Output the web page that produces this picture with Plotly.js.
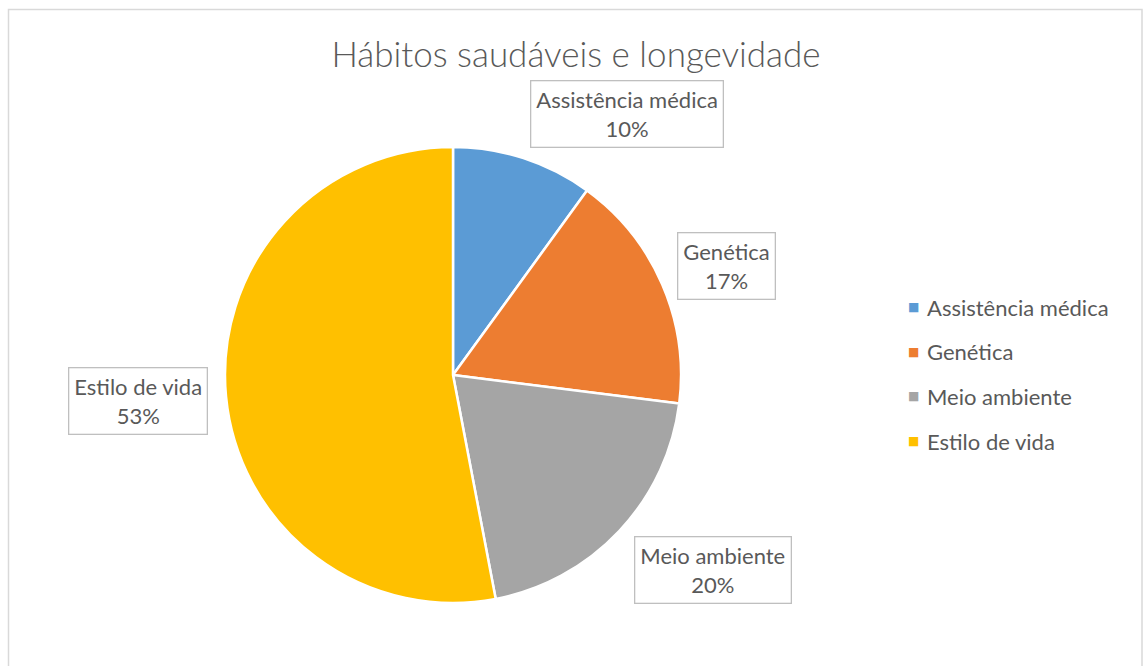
<!DOCTYPE html>
<html><head><meta charset="utf-8">
<script src="https://cdn.plot.ly/plotly-3.0.1.min.js"></script>
<style>html,body{margin:0;padding:0;background:#fff}#chart{width:1144px;height:666px}</style>
</head><body><div id="chart"></div>
<script>
const categories = ["Assistência médica", "Genética", "Meio ambiente", "Estilo de vida"];
const values = [10, 17, 20, 53];
const colors = ["#5B9BD5", "#ED7D31", "#A5A5A5", "#FFC000"];
const chartTitle = "Hábitos saudáveis e longevidade";

const W = 1144, H = 666;
const px = x => x / W, py = y => 1 - y / H;
const FONT = "Lato, 'Open Sans', sans-serif";
const TXT = "#595959";

// label box centers (layout)
const labelPos = [[626.5, 114.5], [726.5, 265.5], [712.5, 569.5], [138, 400.5]];
const total = values.reduce((a, b) => a + b, 0);

const annotations = [];
categories.forEach((c, i) => {
  annotations.push({
    xref: "paper", yref: "paper", x: px(labelPos[i][0]), y: py(labelPos[i][1]),
    xanchor: "center", yanchor: "middle", showarrow: false,
    text: c + "<br>" + Math.round(values[i] / total * 100) + "%",
    font: {family: FONT, size: 22, color: TXT},
    bordercolor: "#BFBFBF", borderwidth: 1.3, borderpad: 5, bgcolor: "#fff", align: "center"
  });
});
// legend
const legX = 913, legY0 = 307, legDy = 44.7;
categories.forEach((c, i) => {
  annotations.push({
    xref: "paper", yref: "paper", x: px(legX), y: py(legY0 + i * legDy),
    xanchor: "center", yanchor: "middle", showarrow: false,
    text: "■", font: {family: "DejaVu Sans", size: 12, color: colors[i]}
  });
  annotations.push({
    xref: "paper", yref: "paper", x: px(925), y: py(legY0 + i * legDy),
    xanchor: "left", yanchor: "middle", showarrow: false,
    text: c, font: {family: FONT, size: 22, color: TXT}
  });
});

const cx = 453, cy = 375, r = 228;
const data = [{
  type: "pie", labels: categories, values: values, sort: false,
  direction: "clockwise", rotation: 0,
  marker: {colors: colors, line: {color: "#fff", width: 2.5}},
  textinfo: "none", textposition: "none", hoverinfo: "label+percent",
  domain: {x: [px(cx - r), px(cx + r)], y: [py(cy + r), py(cy - r)]},
  showlegend: false
}];

const layout = {
  width: W, height: H, margin: {l: 0, r: 0, t: 0, b: 0},
  paper_bgcolor: "#fff", plot_bgcolor: "#fff", showlegend: false,
  title: {text: chartTitle, x: 0.5035, xanchor: "center", y: py(55), yanchor: "middle",
    font: {family: FONT, size: 35, color: TXT, weight: 300}},
  annotations: annotations,
  shapes: [{type: "rect", xref: "paper", yref: "paper", x0: px(8.5), x1: px(1142), y0: -0.05, y1: py(9.5),
    line: {color: "#D9D9D9", width: 1.5}, layer: "below"}]
};
Plotly.newPlot("chart", data, layout, {displayModeBar: false});
</script></body></html>
